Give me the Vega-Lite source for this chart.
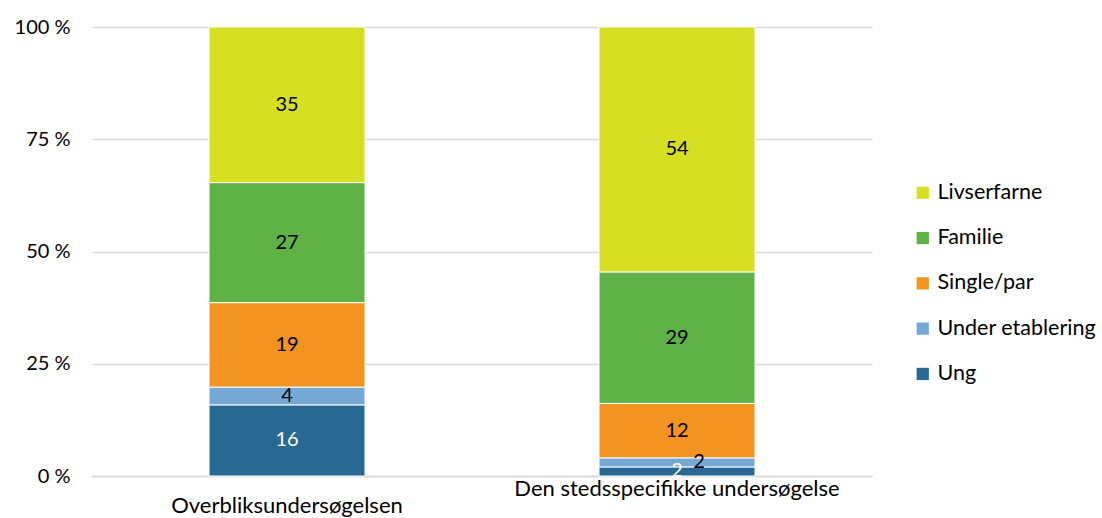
{
  "$schema": "https://vega.github.io/schema/vega-lite/v6.json",
  "width": 780,
  "height": 449,
  "autosize": "none",
  "padding": {"left": 92, "top": 27, "right": 230, "bottom": 42},
  "background": "white",
  "config": {
    "font": "Lato",
    "view": {"stroke": null}
  },
  "data": {
    "values": [
      {"group": "Overbliksundersøgelsen", "category": "Ung", "order": 1, "value": 16},
      {"group": "Overbliksundersøgelsen", "category": "Under etablering", "order": 2, "value": 4},
      {"group": "Overbliksundersøgelsen", "category": "Single/par", "order": 3, "value": 19},
      {"group": "Overbliksundersøgelsen", "category": "Familie", "order": 4, "value": 27},
      {"group": "Overbliksundersøgelsen", "category": "Livserfarne", "order": 5, "value": 35},
      {"group": "Den stedsspecifikke undersøgelse", "category": "Ung", "order": 1, "value": 2},
      {"group": "Den stedsspecifikke undersøgelse", "category": "Under etablering", "order": 2, "value": 2},
      {"group": "Den stedsspecifikke undersøgelse", "category": "Single/par", "order": 3, "value": 12},
      {"group": "Den stedsspecifikke undersøgelse", "category": "Familie", "order": 4, "value": 29},
      {"group": "Den stedsspecifikke undersøgelse", "category": "Livserfarne", "order": 5, "value": 54}
    ]
  },
  "transform": [
    {"stack": "value", "groupby": ["group"], "sort": [{"field": "order", "order": "ascending"}], "offset": "normalize", "as": ["y0", "y1"]},
    {"calculate": "(datum.y0 + datum.y1) / 2", "as": "ymid"}
  ],
  "encoding": {
    "x": {
      "field": "group",
      "type": "nominal",
      "sort": ["Overbliksundersøgelsen", "Den stedsspecifikke undersøgelse"],
      "scale": {"paddingInner": 0.6, "paddingOuter": 0.3},
      "axis": {
        "title": null,
        "labelAngle": 0,
        "labelFontSize": 22,
        "labelColor": "#000000",
        "labelPadding": 2,
        "labelLimit": 0,
        "labelLineHeight": 17,
        "labelExpr": "datum.value == 'Overbliksundersøgelsen' ? ['', datum.value] : datum.value",
        "ticks": false,
        "domain": true,
        "domainColor": "#d9d9d9",
        "domainWidth": 1.5
      }
    }
  },
  "layer": [
    {
      "mark": {"type": "bar", "stroke": "white", "strokeWidth": 1},
      "encoding": {
        "y": {
          "field": "y0",
          "type": "quantitative",
          "scale": {"domain": [0, 1], "nice": false},
          "axis": {
            "title": null,
            "values": [0, 0.25, 0.5, 0.75, 1],
            "labelExpr": "format(datum.value * 100, 'd') + ' %'",
            "labelFontSize": 20,
            "labelColor": "#000000",
            "labelPadding": 22,
            "ticks": false,
            "domain": false,
            "gridColor": "#d9d9d9",
            "gridWidth": 1.5
          }
        },
        "y2": {"field": "y1"},
        "color": {
          "field": "category",
          "type": "nominal",
          "scale": {
            "domain": ["Livserfarne", "Familie", "Single/par", "Under etablering", "Ung"],
            "range": ["#D6DF21", "#5FB246", "#F39320", "#76A8D6", "#276992"]
          },
          "legend": {
            "title": null,
            "orient": "none",
            "legendX": 820,
            "legendY": 155,
            "symbolType": "square",
            "symbolSize": 150,
            "symbolStrokeWidth": 0,
            "labelFontSize": 21.5,
            "labelLimit": 0,
            "labelColor": "#000000",
            "labelOffset": 4,
            "rowPadding": 22.3
          }
        }
      }
    },
    {
      "transform": [{"filter": "!(datum.group == 'Den stedsspecifikke undersøgelse' && datum.category == 'Under etablering')"}],
      "mark": {"type": "text", "fontSize": 20, "baseline": "middle", "align": "center"},
      "encoding": {
        "y": {"field": "ymid", "type": "quantitative"},
        "text": {"field": "value", "type": "quantitative"},
        "color": {"condition": {"test": "datum.category == 'Ung'", "value": "#ffffff"}, "value": "#000000"}
      }
    },
    {
      "transform": [{"filter": "datum.group == 'Den stedsspecifikke undersøgelse' && datum.category == 'Under etablering'"}],
      "mark": {"type": "text", "fontSize": 20, "baseline": "middle", "align": "center", "dx": 22, "dy": 0, "color": "#000000"},
      "encoding": {
        "y": {"field": "ymid", "type": "quantitative"},
        "text": {"field": "value", "type": "quantitative"}
      }
    }
  ]
}
